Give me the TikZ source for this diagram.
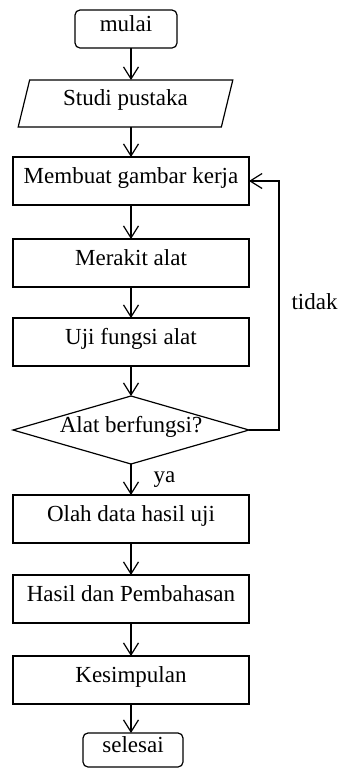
\documentclass[tikz,border=0pt]{standalone}
\usepackage{fontspec}
\setmainfont{Liberation Serif}
\usetikzlibrary{arrows.meta,shapes.geometric}
\begin{document}
\begin{tikzpicture}[x=1pt,y=-1pt,line width=1.2pt,
  txt/.style={font=\fontsize{23}{27}\selectfont, text height=15pt, text depth=11pt, inner sep=0pt, outer sep=0pt},
  box/.style={txt, draw, rectangle, minimum width=236pt, minimum height=48pt},
  term/.style={txt, draw, rectangle, rounded corners=5pt},
  io/.style={txt, draw, trapezium, trapezium left angle=74, trapezium right angle=106, trapezium stretches=true, minimum width=215pt, minimum height=47pt},
  dec/.style={txt, draw, diamond, aspect=3.5, minimum width=236pt, minimum height=68pt},
  lbl/.style={font=\fontsize{23}{27}\selectfont, inner sep=0pt},
  arr/.style={-{Straight Barb[length=12pt,width=15pt]}}]
\useasboundingbox (0,0) rectangle (340,769);
\node[term, minimum width=102pt, minimum height=38pt] (mulai) at (126,29) {mulai};
\node[io] (studi) at (125.5,103.5) {Studi pustaka};
\node[box] (kerja) at (131,181) {Membuat gambar kerja};
\node[box] (rakit) at (131,263) {Merakit alat};
\node[box] (uji) at (131,342) {Uji fungsi alat};
\node[dec] (cek) at (131,430) {Alat berfungsi?};
\node[box] (olah) at (131,519) {Olah data hasil uji};
\node[box] (hasil) at (131,599) {Hasil dan Pembahasan};
\node[box] (simpul) at (131,680) {Kesimpulan};
\node[term, minimum width=100pt, minimum height=34pt] (selesai) at (133,750) {selesai};
\node[lbl, anchor=base west] (tidak) at (291,309) {tidak};
\node[lbl, anchor=base west] (ya) at (153,482) {ya};
\draw[arr] (kerja.north |- mulai.south) -- (kerja.north |- studi.north);
\draw[arr] (kerja.north |- studi.south) -- (kerja.north);
\draw[arr] (kerja) -- (rakit);
\draw[arr] (rakit) -- (uji);
\draw[arr] (uji) -- (cek);
\draw[arr] (cek) -- (olah);
\draw[arr] (olah) -- (hasil);
\draw[arr] (hasil) -- (simpul);
\draw[arr] (simpul.south) -- (simpul.south |- selesai.north);
\draw[arr] (cek.east) -- ++(30,0) |- (kerja.east);
\end{tikzpicture}
\end{document}
